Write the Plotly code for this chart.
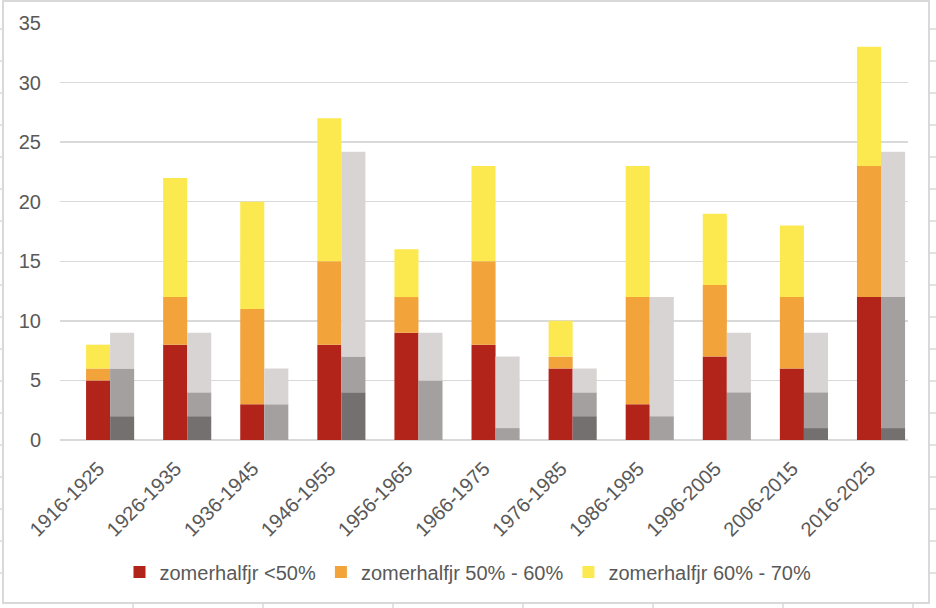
import plotly.graph_objects as go
import numpy as np

categories = ['1916-1925', '1926-1935', '1936-1945', '1946-1955', '1956-1965',
              '1966-1975', '1976-1985', '1986-1995', '1996-2005', '2006-2015', '2016-2025']

# colored stack (legend series)
red_lt50 = [5, 8, 3, 8, 9, 8, 6, 3, 7, 6, 12]
orange_50_60 = [1, 4, 8, 7, 3, 7, 1, 9, 6, 6, 11]
yellow_60_70 = [2, 10, 9, 12, 4, 8, 3, 11, 6, 6, 10]

# grey stack (no legend)
grey_dark = [2, 2, 0, 4, 0, 0, 2, 0, 0, 1, 1]
grey_mid = [4, 2, 3, 3, 5, 1, 2, 2, 4, 3, 11]
grey_light = [3, 5, 3, 17.2, 4, 6, 2, 10, 5, 5, 12.2]

W, H = 936, 608
L, R, T, B = 60, 28, 23, 168
PW, PH = W - L - R, H - T - B

def px(x):
    return (x - L) / PW

def py(y):
    return (H - B - y) / PH

TXT = '#595959'
GRID = '#d9d9d9'
FONT = 'Liberation Sans'
FS = 20

fig = go.Figure()

def add_stack(series, colors, names, offset, showlegend):
    base = np.zeros(len(categories))
    for vals, col, nm in zip(series, colors, names):
        vals = np.array(vals, dtype=float)
        fig.add_trace(go.Bar(
            x=categories, y=vals, base=base.copy(), name=nm,
            marker=dict(color=col, line=dict(width=0)),
            offset=offset, width=0.312, showlegend=showlegend,
            hoverinfo='skip'))
        base = base + vals

add_stack([red_lt50, orange_50_60, yellow_60_70],
          ['#b2231a', '#f2a33a', '#fbe94f'],
          ['zomerhalfjr <50%', 'zomerhalfjr 50% - 60%', 'zomerhalfjr 60% - 70%'],
          -0.162, True)
add_stack([grey_dark, grey_mid, grey_light],
          ['#757070', '#a5a0a0', '#d9d4d4'],
          ['grijs 1', 'grijs 2', 'grijs 3'],
          0.15, False)

shapes = []
# outer frame
shapes.append(dict(type='rect', xref='paper', yref='paper',
                   x0=px(3), x1=px(929), y0=py(1), y1=py(603),
                   line=dict(color=GRID, width=2), layer='below'))
# spreadsheet gridline stubs outside the frame
for yy in range(29, 600, 32):
    shapes.append(dict(type='line', xref='paper', yref='paper',
                       x0=px(0), x1=px(3), y0=py(yy), y1=py(yy),
                       line=dict(color=GRID, width=1.5)))
    shapes.append(dict(type='line', xref='paper', yref='paper',
                       x0=px(929), x1=px(936), y0=py(yy), y1=py(yy),
                       line=dict(color=GRID, width=1.5)))
for xx in range(133, 936, 130):
    shapes.append(dict(type='line', xref='paper', yref='paper',
                       x0=px(xx), x1=px(xx), y0=py(603), y1=py(608),
                       line=dict(color=GRID, width=1.5)))

fig.update_layout(
    width=W, height=H,
    margin=dict(l=L, r=R, t=T, b=B, autoexpand=False),
    barmode='overlay',
    plot_bgcolor='white', paper_bgcolor='white',
    font=dict(family=FONT, size=FS, color=TXT),
    showlegend=True,
    legend=dict(orientation='h', x=px(468), xanchor='center',
                y=py(572), yanchor='middle',
                font=dict(family=FONT, size=FS, color=TXT),
                itemclick=False, itemdoubleclick=False),
    shapes=shapes,
)
fig.update_xaxes(type='category', range=[-0.5, 10.5], tickangle=-45,
                 showgrid=False, showline=False, zeroline=False,
                 ticks='', ticklabelstandoff=12,
                 tickfont=dict(family=FONT, size=FS, color=TXT))
fig.update_yaxes(range=[0, 35], dtick=5, tick0=0,
                 showgrid=True, gridcolor=GRID, gridwidth=1.4,
                 zeroline=True, zerolinecolor=GRID, zerolinewidth=1.4,
                 showline=False, ticks='', ticklabelstandoff=18,
                 tickfont=dict(family=FONT, size=FS, color=TXT))

fig.write_html('out.html', config={'displayModeBar': False, 'staticPlot': True},
               post_script="document.body.style.margin='0px';document.body.style.overflow='hidden';")
